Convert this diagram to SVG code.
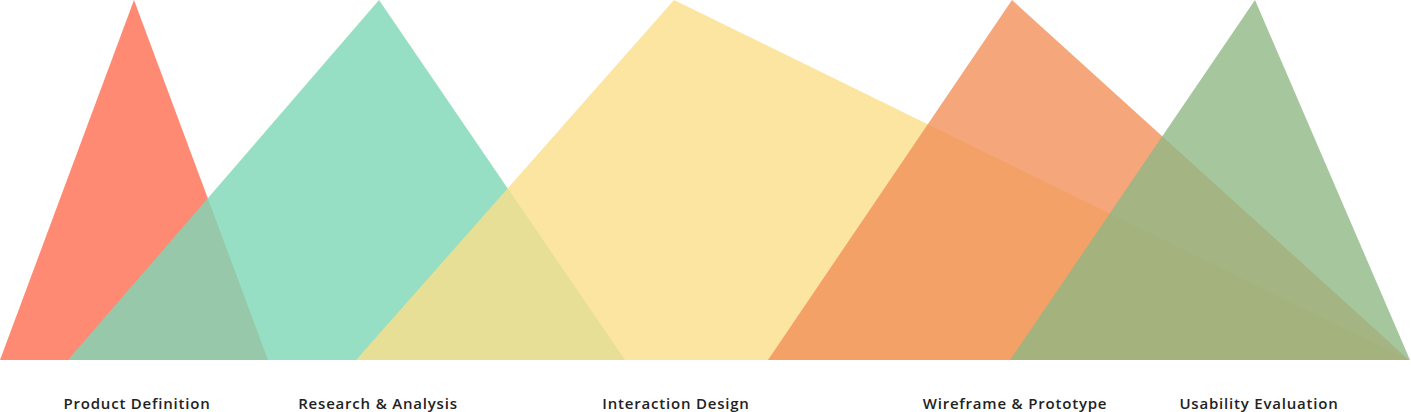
<svg xmlns="http://www.w3.org/2000/svg" width="1411" height="412" viewBox="0 0 1411 412">
<style>
.tri{opacity:0.8}
.lbl{font-family:"Open Sans","Liberation Sans",sans-serif;font-weight:600;font-size:15px;letter-spacing:0.8px;fill:#222;text-anchor:middle}
</style>
<rect width="1411" height="412" fill="#fff"/>
<g id="product-definition">
<polygon class="tri" points="0,360 134,0 268,360" fill="#FF6D50"/>
<text class="lbl" x="137" y="409">Product Definition</text>
</g>
<g id="research-analysis">
<polygon class="tri" points="68,360 379,0 625,360" fill="#7CD7B7"/>
<text class="lbl" x="378" y="409">Research &amp; Analysis</text>
</g>
<g id="interaction-design">
<polygon class="tri" points="356,360 674,0 1409,360" fill="#FADE88"/>
<text class="lbl" x="676" y="409">Interaction Design</text>
</g>
<g id="wireframe-prototype">
<polygon class="tri" points="768,360 1012,0 1409,360" fill="#F29059"/>
<text class="lbl" x="1015" y="409">Wireframe &amp; Prototype</text>
</g>
<g id="usability-evaluation">
<polygon class="tri" points="1010,360 1255,0 1410,360" fill="#90B885"/>
<text class="lbl" x="1259" y="409">Usability Evaluation</text>
</g>
<g id="connectors"/>
</svg>
